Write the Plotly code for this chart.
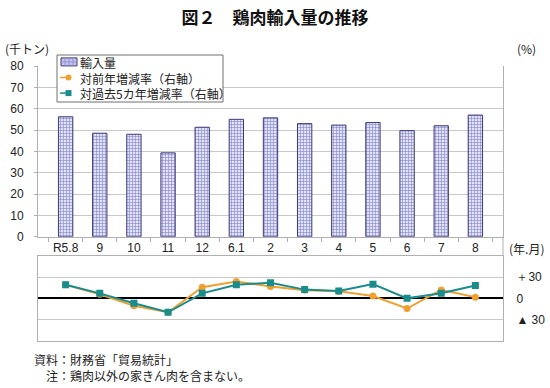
import plotly.graph_objects as go

categories = ["R5.8", "9", "10", "11", "12", "6.1", "2", "3", "4", "5", "6", "7", "8"]
imports_kt = [56.2, 48.5, 48.0, 39.3, 51.3, 55.0, 55.7, 53.0, 52.3, 53.5, 49.7, 52.0, 57.0]
yoy_pct = [19.0, 5.7, -10.5, -19.6, 15.7, 23.8, 16.6, 11.4, 10.0, 3.3, -14.3, 11.9, 1.4]
vs5yr_pct = [19.0, 7.0, -7.0, -19.6, 7.0, 19.0, 22.0, 12.3, 10.4, 20.0, 0.0, 7.1, 18.0]
left_ticks = [0, 10, 20, 30, 40, 50, 60, 70, 80]
right_tickvals = [-30, 0, 30]
right_ticktext = ["▲ 30", "0", "＋30"]
series_names = ["輸入量", "対前年増減率（右軸）", "対過去5カ年増減率（右軸）"]

JP = "Noto Sans CJK JP"
NUM = "Liberation Sans, Arial, sans-serif"
GRID = "#c8c8c8"
ORANGE = "#F0A030"
TEAL = "#1A8C8C"

# body margin is removed in the page (post_script), so screen px == figure px
OFF = 0
W, H = 550, 388
PLOT_X0, PLOT_X1 = 38, 503      # screen px
PLOT_Y0, PLOT_Y1 = 66, 341      # screen px
L = PLOT_X0 - OFF
T = PLOT_Y0 - OFF
R = W - (PLOT_X1 - OFF)
B = H - (PLOT_Y1 - OFF)
PW, PH = W - L - R, H - T - B


def px(x):
    return (x - OFF - L) / PW


def py(y):
    return (H - B - (y - OFF)) / PH


fig = go.Figure()
fig.add_trace(go.Bar(
    x=categories, y=imports_kt, name=series_names[0],
    xaxis="x", yaxis="y",
    marker=dict(color="#dcdcf4",
                line=dict(color="#3a3a78", width=1),
                pattern=dict(shape="+", fgcolor="#8282cc", bgcolor="#e2e2f8",
                             size=3, solidity=0.35, fillmode="replace")),
))
fig.add_trace(go.Scatter(
    x=categories, y=yoy_pct, name=series_names[1],
    xaxis="x2", yaxis="y2", mode="lines+markers",
    line=dict(color=ORANGE, width=2),
    marker=dict(symbol="circle", size=7, color=ORANGE),
))
fig.add_trace(go.Scatter(
    x=categories, y=vs5yr_pct, name=series_names[2],
    xaxis="x2", yaxis="y2", mode="lines+markers",
    line=dict(color=TEAL, width=2),
    marker=dict(symbol="square", size=7, color=TEAL),
))

top_dom = [py(236.7), 1.0]
bot_dom = [0.0, py(255.7)]

shapes = [dict(type="line", xref="paper", yref="paper", x0=1, x1=1,
               y0=bot_dom[1], y1=top_dom[0], line=dict(color="#b0b0b0", width=1))]

# manual legend (box, swatches)
leg_x0, leg_x1, leg_y0, leg_y1 = 57, 223, 55, 102
rows = [61.9, 77.5, 93.1]
shapes.append(dict(type="rect", xref="paper", yref="paper",
                   x0=px(leg_x0), x1=px(leg_x1), y0=py(leg_y1), y1=py(leg_y0),
                   fillcolor="white", line=dict(color="#707070", width=1), layer="above"))
shapes.append(dict(type="rect", xref="paper", yref="paper",
                   x0=px(61), x1=px(77), y0=py(rows[0] + 4), y1=py(rows[0] - 4),
                   fillcolor="#c4c4ec", line=dict(color="#3a3a78", width=1), layer="above"))
for xx in [65, 69, 73]:
    shapes.append(dict(type="line", xref="paper", yref="paper",
                       x0=px(xx), x1=px(xx), y0=py(rows[0] + 4), y1=py(rows[0] - 4),
                       line=dict(color="#8a8ad0", width=0.8), layer="above"))
shapes.append(dict(type="line", xref="paper", yref="paper",
                   x0=px(61), x1=px(77), y0=py(rows[0]), y1=py(rows[0]),
                   line=dict(color="#8a8ad0", width=0.8), layer="above"))
for row, col, sym in [(rows[1], ORANGE, "circle"), (rows[2], TEAL, "rect")]:
    shapes.append(dict(type="line", xref="paper", yref="paper",
                       x0=px(60), x1=px(77), y0=py(row), y1=py(row),
                       line=dict(color=col, width=1.5, dash="dash"), layer="above"))
    shapes.append(dict(type=sym, xref="paper", yref="paper",
                       x0=px(65.5), x1=px(71.5), y0=py(row + 3), y1=py(row - 3),
                       fillcolor=col, line=dict(color=col, width=0), layer="above"))

annotations = [
    dict(text="(千トン)", x=px(3), y=py(48), xanchor="left"),
    dict(text="(%)", x=px(515), y=py(48), xanchor="left"),
    dict(text="(年.月)", x=px(507), y=py(248), xanchor="left"),
    dict(text="資料：財務省「貿易統計」<br>　注：鶏肉以外の家きん肉を含まない。",
         x=px(32), y=py(367.5), xanchor="left", align="left"),
    dict(text="<br>".join(series_names), x=px(78), y=py(rows[1]),
         xanchor="left", align="left"),
]
for a in annotations:
    a.update(xref="paper", yref="paper", showarrow=False, yanchor="middle",
             font=dict(family=JP, size=12, color="#222"))

fig.update_layout(
    width=W, height=H,
    margin=dict(l=L, r=R, t=T, b=B, autoexpand=False),
    paper_bgcolor="white", plot_bgcolor="white",
    bargap=0.58,
    showlegend=False,
    hovermode=False,
    font=dict(family=JP, size=12, color="#222"),
    title=dict(text="<b>図２　鶏肉輸入量の推移</b>", x=(275 - OFF) / W, xanchor="center",
               y=1 - (18 - OFF) / H, yanchor="middle",
               font=dict(family=JP, size=17, color="#111")),
    xaxis=dict(domain=[0, 1], anchor="y", type="category", automargin=False,
               showline=True, linecolor="#b0b0b0", linewidth=1, tickangle=0,
               ticks="outside", ticklen=4, tickcolor="#b0b0b0", tickson="boundaries",
               tickfont=dict(family=NUM, size=12, color="#222"),
               showgrid=False),
    yaxis=dict(domain=top_dom, anchor="x", range=[0, 80], tickvals=left_ticks,
               automargin=False,
               showgrid=True, gridcolor=GRID, zeroline=False,
               showline=True, linecolor="#b0b0b0", mirror=True,
               ticks="outside", ticklen=3, tickcolor="#b0b0b0",
               ticklabelstandoff=8,
               tickfont=dict(family=NUM, size=12, color="#222")),
    xaxis2=dict(domain=[0, 1], anchor="y2", matches="x", type="category",
                automargin=False,
                showticklabels=False, showline=True, linecolor="#b0b0b0", mirror=True,
                ticks="", showgrid=False),
    yaxis2=dict(domain=bot_dom, anchor="x2", range=[-60, 60], side="right",
                automargin=False,
                tickvals=right_tickvals, ticktext=right_ticktext,
                showgrid=True, gridcolor=GRID,
                zeroline=True, zerolinecolor="#000000", zerolinewidth=1.5,
                showline=True, linecolor="#b0b0b0", mirror=True, ticks="",
                ticklabelstandoff=10,
                tickfont=dict(family=NUM, size=12, color="#222")),
    shapes=shapes,
    annotations=annotations,
)

fig.write_html("out.html", config={"displayModeBar": False},
               post_script="document.body.style.margin='0px';")
